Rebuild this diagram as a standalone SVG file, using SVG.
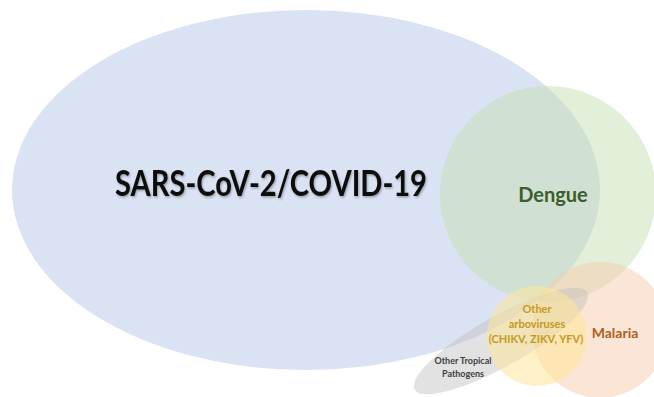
<svg xmlns="http://www.w3.org/2000/svg" width="654" height="397" viewBox="0 0 654 397">
<style>
text{font-family:Lato,"Open Sans","Liberation Sans",sans-serif;font-weight:bold;text-anchor:middle}
.covid{fill:#dae3f3}
.dengue{fill:#c5e0b4;fill-opacity:0.5}
.malaria{fill:#f8cbad;fill-opacity:0.5}
.arbo{fill:#ffe699;fill-opacity:0.55}
.other{fill:#bfbfbf;fill-opacity:0.45}
</style>
<defs>
<filter id="sh" x="-5%" y="-20%" width="110%" height="140%">
<feDropShadow dx="1" dy="1.5" stdDeviation="1" flood-color="#000000" flood-opacity="0.3"/>
</filter>
</defs>
<rect width="654" height="397" fill="#ffffff"/>
<g id="covid">
<ellipse class="covid" cx="306" cy="190" rx="294" ry="180"/>
</g>
<g id="dengue">
<circle class="dengue" cx="548" cy="194" r="108"/>
</g>
<g id="malaria">
<circle class="malaria" cx="600" cy="330" r="68"/>
</g>
<g id="other">
<ellipse class="other" cx="501" cy="341" rx="99" ry="25" transform="rotate(-29.4 501 341)"/>
</g>
<g id="arbo">
<circle class="arbo" cx="537" cy="336" r="50"/>
</g>
<g id="labels">
<text x="271" y="196" font-size="36" fill="#111111" textLength="312" lengthAdjust="spacingAndGlyphs" filter="url(#sh)">SARS-CoV-2/COVID-19</text>
<text x="553" y="202" font-size="20" fill="#3b5e2b">Dengue</text>
<text x="615" y="338" font-size="14" fill="#b0601f">Malaria</text>
<text x="537" y="313" font-size="11" fill="#c49a1c">Other</text>
<text x="537" y="328" font-size="11" fill="#c49a1c">arboviruses</text>
<text x="536" y="343" font-size="11" fill="#c49a1c">(CHIKV, ZIKV, YFV)</text>
<text x="463" y="364" font-size="9" fill="#404040">Other Tropical</text>
<text x="463" y="377" font-size="9" fill="#404040">Pathogens</text>
</g>
</svg>
